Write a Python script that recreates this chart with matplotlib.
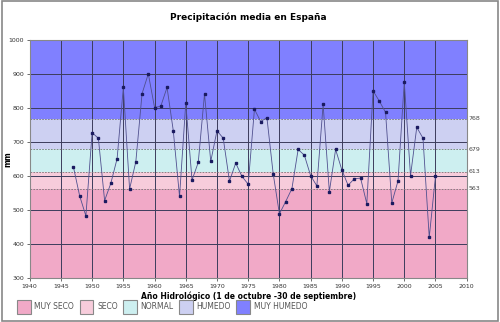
import matplotlib.pyplot as plt
from matplotlib.patches import Patch, Rectangle
import matplotlib.transforms as mtransforms

# datos
years = list(range(1947, 2006))
precip = [627, 542, 483, 727, 711, 528, 579, 651, 860, 562,
          642, 842, 900, 801, 805, 860, 733, 540, 814, 588,
          640, 841, 643, 733, 711, 585, 638, 599, 576, 796,
          760, 771, 607, 489, 525, 563, 678, 661, 601, 571,
          810, 554, 678, 618, 573, 592, 594, 519, 850, 820,
          787, 521, 586, 877, 601, 743, 711, 420, 600]

limits = [300, 563, 613, 679, 768, 1000]
band_names = ["MUY SECO", "SECO", "NORMAL", "HUMEDO", "MUY HUMEDO"]
band_colors = ["#f1a9c7", "#f7ccdb", "#cdeff0", "#cdd0f2", "#8080ff"]

fig = plt.figure(figsize=(5, 3.22), dpi=100)
ax = fig.add_axes([0.0594, 0.1357, 0.874, 0.741])

# bandas
for i in range(5):
    ax.axhspan(limits[i], limits[i + 1], color=band_colors[i], zorder=0, lw=0)
for v in limits[1:5]:
    ax.axhline(v, color="#777777", ls="--", lw=0.6, dashes=(2, 1.5), zorder=1)

ax.set_xlim(1940, 2010)
ax.set_ylim(300, 1000)
ax.set_xticks(range(1940, 2011, 5))
ax.set_yticks(range(300, 1001, 100))
ax.grid(True, color="#3c3c5c", lw=0.7, zorder=1)
ax.set_axisbelow(True)
ax.tick_params(labelsize=4.5, length=2, width=0.5, colors="#333333", pad=2)
for s in ax.spines.values():
    s.set_color("#888888")
    s.set_linewidth(0.8)

ax.plot(years, precip, color="#50508f", lw=0.6, marker="s", ms=1.6,
        mfc="#1a1a60", mec="#1a1a60", zorder=3)

# etiquetas de umbrales a la derecha
trans = mtransforms.blended_transform_factory(ax.transAxes, ax.transData)
for v in limits[1:5]:
    ax.text(1.005, v, str(v), transform=trans, fontsize=4.5, color="#444444",
            va="center", ha="left")

ax.set_title("Precipitación media en España", fontsize=6.5, fontweight="bold",
             pad=14)
ax.set_xlabel("Año Hidrológico (1 de octubre -30 de septiembre)", fontsize=5.5,
              fontweight="bold", labelpad=2)
ax.set_ylabel("mm", fontsize=5.5, fontweight="bold")
ax.yaxis.set_label_coords(-0.04, 0.5)

handles = [Patch(facecolor=c, edgecolor="#888888", lw=0.8) for c in band_colors]
fig.legend(handles, band_names, loc="lower left", bbox_to_anchor=(0.02, 0.005),
           ncol=5, fontsize=5.5, frameon=False, handlelength=1.8, handleheight=2.4,
           handletextpad=0.5, columnspacing=0.7, labelcolor="#555555")

fig.patches.append(Rectangle((0.004, 0.004), 0.992, 0.992, transform=fig.transFigure,
                             fill=False, edgecolor="#888888", lw=1.2))

fig.savefig("out.png", dpi=100)
